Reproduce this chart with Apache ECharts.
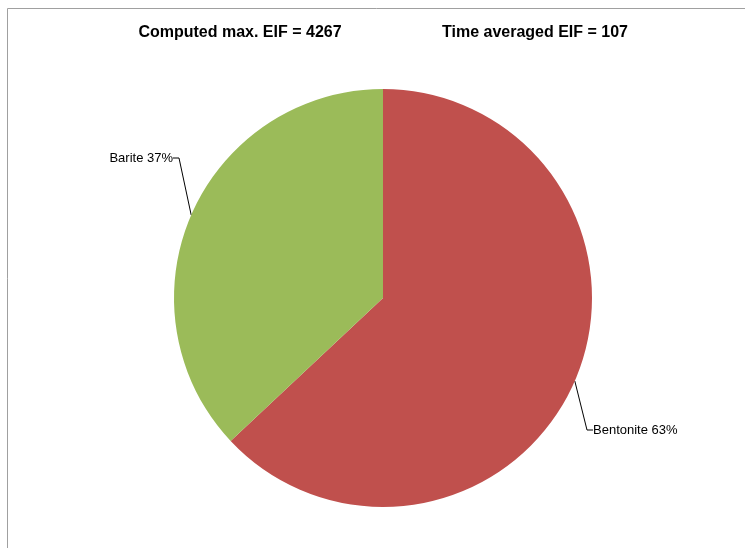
<!DOCTYPE html>
<html>
<head>
<meta charset="utf-8">
<script src="https://cdn.jsdelivr.net/npm/echarts@6/dist/echarts.min.js"></script>
<style>
  html, body { margin: 0; padding: 0; background: #fff; }
  #chart { width: 745px; height: 548px; }
</style>
</head>
<body>
<div id="chart"></div>
<script>
// composition of the discharge
const categories = ['Bentonite', 'Barite'];
const shares = [63, 37];
const colors = ['#C0504D', '#9BBB59'];
const titles = ['Computed max. EIF = 4267', 'Time averaged EIF = 107'];

const chart = echarts.init(document.getElementById('chart'));
const cx = 383, cy = 298, r = 209;

chart.setOption({
  animation: false,
  title: [
    {
      text: titles[0], left: 235, top: 20, textAlign: 'center',
      textStyle: { fontFamily: 'Liberation Sans', fontSize: 16, fontWeight: 'bold', color: '#000' }
    },
    {
      text: titles[1], left: 530, top: 20, textAlign: 'center',
      textStyle: { fontFamily: 'Liberation Sans', fontSize: 16, fontWeight: 'bold', color: '#000' }
    }
  ],
  graphic: [{
    type: 'rect',
    shape: { x: 7.5, y: 8.5, width: 760, height: 560 },
    style: { fill: null, stroke: '#a0a0a0', lineWidth: 1 },
    silent: true
  }],
  series: [{
    type: 'pie',
    center: [cx, cy],
    radius: r,
    startAngle: 90,
    clockwise: true,
    data: categories.map((c, i) => ({
      name: c, value: shares[i], itemStyle: { color: colors[i] }
    })),
    label: {
      position: 'outside',
      formatter: p => p.name + ' ' + p.value + '%',
      fontFamily: 'Liberation Sans',
      fontSize: 13,
      color: '#000'
    },
    labelLine: {
      show: true,
      length: 20,
      length2: 6,
      lineStyle: { color: '#000', width: 1 }
    },
    labelLayout: p => p.dataIndex === 0
      ? { x: cx + 210, y: cy + 132, align: 'left', verticalAlign: 'middle' }
      : { x: cx - 210, y: cy - 140, align: 'right', verticalAlign: 'middle' }
  }]
});
</script>
</body>
</html>
